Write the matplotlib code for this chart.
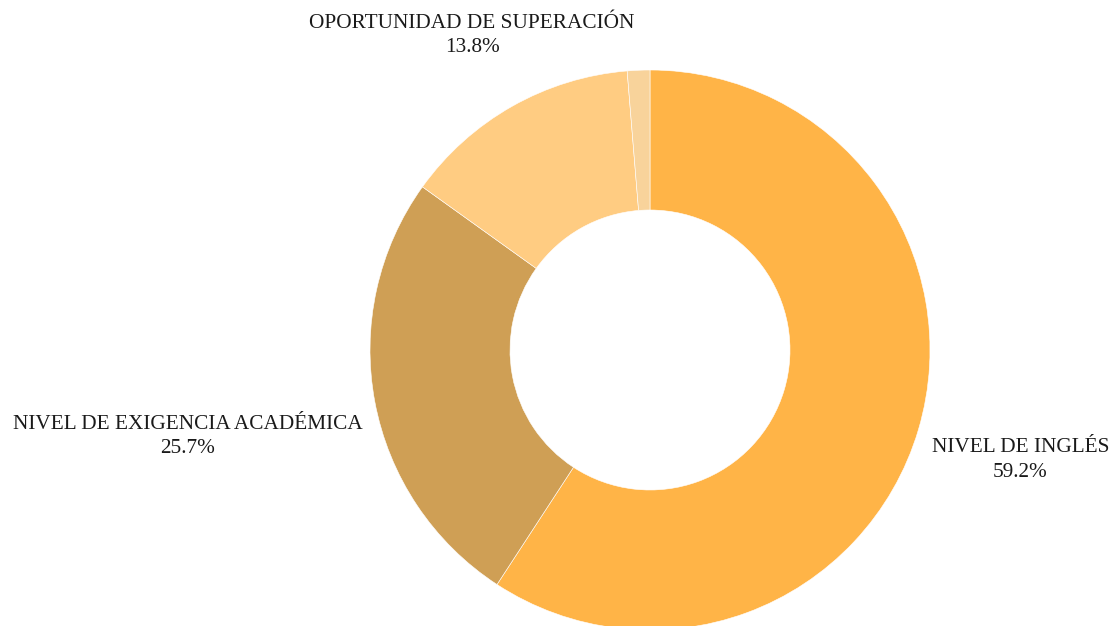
import numpy as np
import matplotlib
matplotlib.use("Agg")
import matplotlib.pyplot as plt

# data
labels = ["NIVEL DE INGLÉS", "NIVEL DE EXIGENCIA ACADÉMICA", "OPORTUNIDAD DE SUPERACIÓN", ""]
values = [59.2, 25.7, 13.8, 1.3]
colors = ["#FFB447", "#CF9F55", "#FFCC82", "#F8D39B"]
label_dist = [1.38, 1.68, 1.29, None]

W, H = 1111, 626
fig = plt.figure(figsize=(W / 100, H / 100), dpi=100)
ax = fig.add_axes([0, 0, 1, 1])

cx, cy, R = 650, H - 350, 280
ax.pie(values, colors=colors, startangle=90, counterclock=False,
       center=(cx, cy), radius=R, frame=True,
       wedgeprops=dict(width=R * 0.5, edgecolor="white", linewidth=0.4))
ax.set_xlim(0, W)
ax.set_ylim(0, H)
ax.set_aspect("equal")
ax.axis("off")

total = sum(values)
start = 90.0
for lab, v, d in zip(labels, values, label_dist):
    span = v / total * 360
    mid = np.deg2rad(start - span / 2)
    start -= span
    if not lab:
        continue
    x = cx + d * R * np.cos(mid)
    y = cy + d * R * np.sin(mid)
    ax.text(x, y, f"{lab}\n{v:.1f}%", ha="center", va="center",
            fontsize=15.3, family="Liberation Serif", color="#1a1a1a",
            linespacing=1.38)

fig.savefig("out.png", dpi=100)
